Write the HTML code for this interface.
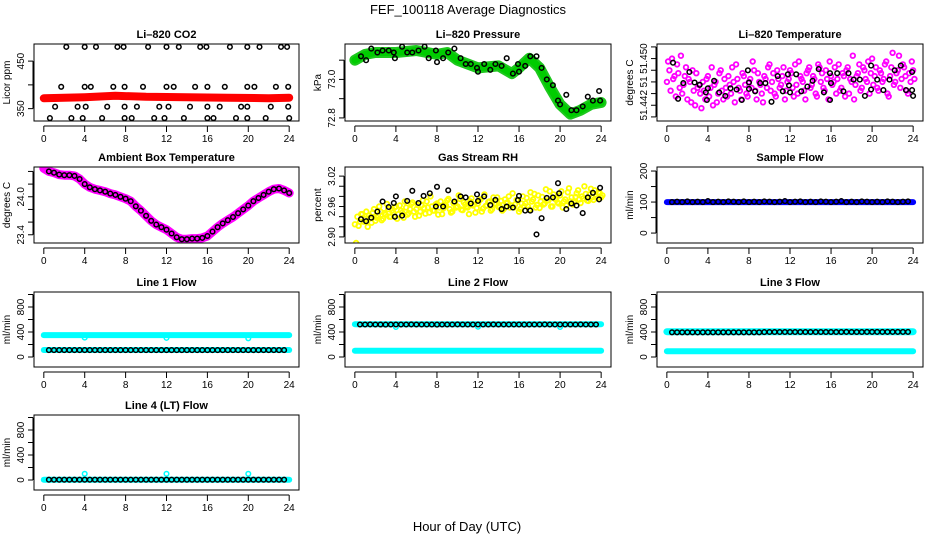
<!DOCTYPE html>
<html><head><meta charset="utf-8"><title>FEF_100118 Average Diagnostics</title>
<style>
html,body{margin:0;padding:0;background:#fff;}
svg{display:block;font-family:"Liberation Sans",sans-serif;}
</style></head>
<body>
<svg id="chart" width="936" height="540" viewBox="0 0 936 540" xmlns="http://www.w3.org/2000/svg">
<rect x="0" y="0" width="936" height="540" fill="#fff"/>
<text x="468" y="14" text-anchor="middle" font-size="13">FEF_100118  Average Diagnostics</text>
<text x="467" y="531" text-anchor="middle" font-size="13">Hour of Day (UTC)</text>
</svg>
<script>
// ---------- data ----------
const xTicks = [0,4,8,12,16,20,24];
// CO2
const co2TopT = [2.2,4.0,5.1,7.2,7.8,10.2,12.0,13.2,15.3,15.9,18.2,19.9,21.1,23.2,23.8];
const co2MidT = [1.7,4.0,4.6,6.8,7.9,9.7,12.0,12.7,14.8,16.0,17.7,19.9,20.6,22.7,23.9];
const co2LowT = [1.1,3.3,4.1,6.2,7.9,9.1,11.3,12.2,14.3,16.0,17.2,19.3,19.9,22.2,23.9];
const co2BotT = [0.6,2.7,3.8,5.7,7.9,8.6,10.8,11.8,13.7,16.0,16.6,18.8,19.9,21.7,24.0];
const co2Levels = [480,396,354,330];
const co2BandT = [0,4,7,10,14,18,22,24];
const co2BandV = [372,374,377,375,374,373,372,373];
// Pressure
const presBandT = [0,1,2,4,6,8,9,10,12,14,15.3,16,17,18,19,20,21,22,23,24];
const presBandV = [73.10,73.13,73.14,73.14,73.15,73.13,73.14,73.10,73.06,73.07,73.03,73.06,73.11,73.06,72.96,72.87,72.82,72.84,72.87,72.88];
const presT = [0.6,1.1,1.6,2.2,2.7,3.3,3.8,3.9,4.6,5.1,5.6,6.2,6.8,7.2,7.9,8.0,8.6,9.1,9.7,10.3,10.8,11.3,11.9,12.0,12.6,13.2,13.7,14.3,14.8,15.4,15.9,16.0,16.6,17.1,17.7,18.2,18.7,19.3,19.8,20.0,20.6,21.1,21.6,22.2,22.7,23.2,23.8,23.9];
const presV = [73.12,73.10,73.16,73.14,73.15,73.15,73.14,73.11,73.17,73.14,73.14,73.15,73.17,73.11,73.15,73.09,73.11,73.14,73.16,73.11,73.08,73.08,73.06,73.04,73.08,73.05,73.08,73.07,73.11,73.03,73.08,73.04,73.07,73.12,73.12,73.06,73.00,72.97,72.89,72.87,72.92,72.84,72.84,72.86,72.91,72.89,72.94,72.89];
// Li-820 temperature (thousandths of a degree above 51.440)
const tempA = [6,8,10,7,9,5,4,7,3,6,8,2,5,4,6,3,7,5,2,6,4,8,3,5,7,4,6,9,5,3,7,4,6,5,8,3,6,4,7,5,9,6,4,8,5,7,3,6,8,5,9,4,7,6,3,8,5,7,4,9,6,5,8,3,7,6,4,9,5,7,8,4,6,3,7,9,5,8,6,4,10,7,5,8,6,9,4,7,11,6,8,5,9,7,4,6,8];
const tempB = [9,4,6,3,7,10,5,8,6,2,4,7,5,1,4,6,3,8,5,2,7,4,6,3,5,8,2,6,4,7,5,3,6,9,4,7,5,2,6,8,4,7,3,6,5,8,4,6,7,3,5,9,6,4,7,8,5,6,3,8,7,4,6,9,5,8,6,4,7,3,8,6,10,5,7,4,8,6,9,7,5,8,4,7,6,9,3,8,5,7,10,6,8,4,7,9,6];
const tempBlkT = [0.6,1.1,1.6,2.2,2.7,3.2,3.8,3.9,4.0,4.6,5.1,5.7,6.2,6.8,7.3,7.9,8.0,8.0,8.6,9.1,9.6,10.2,10.8,11.3,11.8,11.9,12.0,12.6,13.1,13.7,14.2,14.8,15.3,15.9,15.9,16.0,16.6,17.2,17.7,18.2,18.8,19.3,19.9,19.9,20.5,21.1,21.7,22.2,22.8,23.3,23.9,23.9,24.0];
const tempBlkV = [9.3,3.1,5.8,7.7,5.9,5.5,4.2,2.9,4.9,6.2,4.2,3.6,4.9,4.7,2.9,8.0,5.9,4.8,4.4,5.8,5.8,2.6,7.0,4.4,7.3,5.4,4.2,7.3,4.4,5.2,6.2,8.2,4.2,7.5,2.9,5.8,7.5,4.4,7.5,6.4,6.4,3.6,8.8,4.7,6.4,4.6,6.4,8.0,8.8,4.6,7.7,4.6,3.6];
// Ambient box temperature
const ambV = [24.45,24.40,24.38,24.35,24.34,24.34,24.33,24.28,24.20,24.15,24.12,24.10,24.08,24.05,24.03,24.00,23.97,23.93,23.85,23.78,23.70,23.62,23.56,23.52,23.48,23.42,23.36,23.33,23.33,23.34,23.34,23.35,23.38,23.45,23.52,23.58,23.63,23.68,23.74,23.80,23.86,23.93,23.98,24.03,24.08,24.12,24.13,24.10,24.06];
// Gas stream RH (thousandths above 2.900)
const rhA = [25,40,30,45,35,20,38,48,32,42,50,36,44,55,40,48,60,45,52,38,58,47,65,50,55,42,62,57,70,48,60,52,66,58,45,63,72,55,50,68,60,75,53,64,58,70,62,48,66,74,56,61,69,52,78,64,59,71,55,67,80,62,58,73,50,66,61,77,54,70,85,63,57,79,66,72,90,60,75,68,82,58,74,88,70,64,79,92,67,76,85,71,95,73,80,88,78];
const rhB = [-12,22,45,30,50,42,28,55,38,60,33,47,65,40,52,58,36,62,48,70,44,55,68,40,63,50,72,46,58,80,52,64,44,70,56,62,75,48,66,58,82,54,68,60,45,76,64,57,72,50,84,62,70,55,66,78,60,52,74,68,58,86,64,72,55,80,66,60,88,74,58,82,70,64,94,72,60,84,76,66,90,70,62,96,78,68,86,74,80,100,72,84,78,92,76,86,82];
const rhBlkT = [0.6,1.1,1.6,2.2,2.7,3.3,3.8,3.9,4.0,4.6,5.1,5.6,6.2,6.7,7.3,7.9,8.0,8.6,9.1,9.7,10.3,10.8,11.3,11.9,12.0,12.6,13.2,13.7,14.3,14.8,15.4,15.9,16.0,16.6,17.1,17.7,18.2,18.7,19.3,19.8,19.9,20.6,21.1,21.6,22.2,22.7,23.2,23.8,23.9];
const rhBlkV = [2.935,2.931,2.938,2.950,2.970,2.959,2.967,2.940,2.980,2.942,2.971,2.991,2.967,2.981,2.986,2.960,2.999,2.960,2.992,2.970,2.980,2.978,2.966,2.984,2.971,2.980,2.963,2.973,2.955,2.960,2.958,2.973,2.981,2.952,2.952,2.905,2.937,2.977,2.978,3.006,2.986,2.955,2.966,2.962,2.947,2.978,2.987,2.974,2.997];
// Flows (black points every half hour 0.5..23.5)
const sampleBlk = [100,101,100,102,100,101,100,103,100,101,100,102,101,100,102,100,101,100,102,101,100,101,103,100,101,102,100,101,100,102,101,100,101,103,100,101,100,102,101,100,101,100,102,101,100,101,102];
const line1Blk = [110,110,110,111,110,110,110,110,110,110,111,110,110,110,110,110,110,111,110,110,110,110,110,110,110,111,110,110,110,110,110,110,111,110,110,110,110,110,110,110,111,110,110,110,110,110,110];
const line2Blk = [520,520,521,520,520,519,520,520,520,520,521,520,520,520,520,519,520,520,520,521,520,520,520,520,520,520,521,520,520,520,520,520,519,520,520,520,521,520,520,520,520,520,520,521,520,520,520];
const line3Blk = [395,395,396,395,395,394,395,395,395,396,395,395,395,395,395,396,395,395,398,400,400,400,400,400,400,400,400,400,400,400,400,400,400,400,401,400,400,400,402,402,402,402,402,402,402,402,402];
const line4Blk = [5,5,5,5,5,5,5,5,5,5,5,5,5,5,5,5,5,5,5,5,5,5,5,5,5,5,5,5,5,5,5,5,5,5,5,5,5,5,5,5,5,5,5,5,5,5,5];
const bandT = [0,24];
const line1Upper = [350,350];
const line1Lower = [112,112];
const line2Upper = [525,525];
const line2Lower = [100,100];
const line3Upper = [405,405];
const line3Lower = [92,92];
const line4Lower = [5,5];
const sampleBand = [100,100];
const spikeT = [4,12,20];
const line1Dip = [310,305,300];
const line2Dip = [480,485,480];
const line4Spike = [100,100,100];

// ---------- drawing ----------
const NS = "http://www.w3.org/2000/svg";
const svg = document.getElementById('chart');
function mk(tag, attrs, parent){
  const e = document.createElementNS(NS, tag);
  for (const k in attrs) e.setAttribute(k, attrs[k]);
  (parent||svg).appendChild(e);
  return e;
}
const cols = [[34,299],[345,611],[657,923]];
const rows = [[44,121],[167,243],[292,367],[415,490]];

function panel(name, c, r, ymin, ymax, yTicks, yLabels, title, ylab){
  const [x0,x1] = cols[c], [y0,y1] = rows[r];
  const g = mk('g', {});
  
  
  const xs = t => x0 + (t + 0.96) / 25.92 * (x1 - x0);
  const ys = v => y1 - (v - ymin) / (ymax - ymin) * (y1 - y0);
  const clipId = 'clip-' + name;
  const cp = mk('clipPath', {id: clipId}, g);
  mk('rect', {x: x0, y: y0, width: x1 - x0, height: y1 - y0}, cp);
  const plot = mk('g', {'clip-path': 'url(#' + clipId + ')'}, g);
  
  
  const box = mk('rect', {x: x0, y: y0, width: x1 - x0, height: y1 - y0, fill: 'none', stroke: '#000', 'stroke-width': 1});
  
  
  const tt = mk('text', {x: (x0 + x1) / 2, y: y0 - 6, 'text-anchor': 'middle', 'font-size': 11, 'font-weight': 'bold'}, g);
  tt.textContent = title;
  
  
  const ax = y1 + 5;
  const xl = mk('line', {x1: xs(0), x2: xs(24), y1: ax, y2: ax, stroke: '#000'}, g);
  
  
  xTicks.forEach(t => {
    mk('line', {x1: xs(t), x2: xs(t), y1: ax, y2: ax + 6, stroke: '#000'}, g);
    const lt = mk('text', {x: xs(t), y: ax + 16, 'text-anchor': 'middle', 'font-size': 10}, g);
    lt.textContent = String(t);
    
    
  });
  const ay = x0 - 1;
  const yl = mk('line', {x1: ay, x2: ay, y1: ys(yTicks[0]), y2: ys(yTicks[yTicks.length - 1]), stroke: '#000'}, g);
  
  
  yTicks.forEach((v, i) => {
    mk('line', {x1: ay - 5, x2: ay, y1: ys(v), y2: ys(v), stroke: '#000'}, g);
    if (yLabels[i]) {
      const py = ys(v);
      const lt = mk('text', {x: ay - 9, y: py, 'text-anchor': 'middle', 'font-size': 10, transform: 'rotate(-90 ' + (ay - 9) + ' ' + py + ')'}, g);
      lt.textContent = yLabels[i];
      
      
    }
  });
  const yt = mk('text', {x: x0 - 24, y: (y0 + y1) / 2, 'text-anchor': 'middle', 'font-size': 10, transform: 'rotate(-90 ' + (x0 - 24) + ' ' + ((y0 + y1) / 2) + ')'}, g);
  yt.textContent = ylab;
  
  
  return {xs, ys, plot};
}
function band(p, ts, vs, color, w, nm){
  const pts = ts.map((t, i) => p.xs(t).toFixed(1) + ',' + p.ys(vs[i]).toFixed(1)).join(' ');
  const e = mk('polyline', {points: pts, fill: 'none', stroke: color, 'stroke-width': w, 'stroke-linejoin': 'round', 'stroke-linecap': 'round'}, p.plot);
  
  
}
function pts(p, ts, vs, color, nm, r, sw){
  vs.forEach((v, i) => {
    const e = mk('circle', {cx: p.xs(ts[i]).toFixed(1), cy: p.ys(v).toFixed(1), r: r || 2.3, fill: 'none', stroke: color, 'stroke-width': sw || 1.5}, p.plot);
    
    
  });
}
const halfHours = line1Blk.map((_, i) => 0.5 + i * 0.5);
const quarterHours = tempA.map((_, i) => i * 0.25);
const halfAll = ambV.map((_, i) => i * 0.5);

let p = panel('co2', 0, 0, 324, 486, [350,400,450], ['350','','450'], 'Li\u2013820 CO2', 'Licor ppm');
band(p, co2BandT, co2BandV, '#ff0000', 8, 'co2-red-band');
[co2TopT, co2MidT, co2LowT, co2BotT].forEach((ts, k) => pts(p, ts, ts.map(() => co2Levels[k]), '#000', 'co2-point'));

p = panel('pressure', 1, 0, 72.784, 73.184, [72.8,72.9,73.0,73.1], ['72.8','','73.0',''], 'Li\u2013820 Pressure', 'kPa');
band(p, presBandT, presBandV, '#1ec81e', 11, 'pressure-green-band');
band(p, presBandT, presBandV, '#00cc00', 7, 'pressure-green-core');
pts(p, presT, presV, '#000', 'pressure-point');

p = panel('li820-temp', 2, 0, 51.4393, 51.4525, [51.440,51.442,51.444,51.446,51.448,51.450,51.452], ['','51.442','','51','','51.450',''], 'Li\u2013820 Temperature', 'degrees C');
pts(p, quarterHours, tempA.map(v => 51.440 + v / 1000), '#ff00ff', 'temp-magenta-point', 2.3, 1.8);
pts(p, quarterHours.map(t => t + 0.12), tempB.map(v => 51.4405 + v / 1000), '#ff00ff', 'temp-magenta-point', 2.3, 1.8);
pts(p, tempBlkT, tempBlkV.map(v => 51.440 + v / 1000), '#000', 'temp-point');

p = panel('ambient-temp', 0, 1, 23.27, 24.47, [23.4,23.6,23.8,24.0,24.2,24.4], ['23.4','','','24.0','',''], 'Ambient Box Temperature', 'degrees C');
band(p, halfAll, ambV, '#ff00ff', 9, 'ambient-magenta-band');
pts(p, halfAll.slice(1), ambV.slice(1), '#000', 'ambient-point');

p = panel('gas-rh', 1, 1, 2.888, 3.038, [2.90,2.92,2.94,2.96,2.98,3.00,3.02], ['2.90','','','2.96','','','3.02'], 'Gas Stream RH', 'percent');
pts(p, quarterHours, rhA.map(v => 2.9 + v / 1000), '#ffff00', 'rh-yellow-point', 2.3, 1.8);
pts(p, quarterHours.map(t => t + 0.12), rhB.map(v => 2.9 + v / 1000), '#ffff00', 'rh-yellow-point', 2.3, 1.8);
pts(p, rhBlkT, rhBlkV, '#000', 'rh-point');

p = panel('sample-flow', 2, 1, -32, 213, [0,50,100,150,200], ['0','','100','','200'], 'Sample Flow', 'ml/min');
band(p, bandT, sampleBand, '#0000ff', 6, 'sample-flow-blue-band');
pts(p, halfHours, sampleBlk, '#000', 'sample-flow-point');
const flowTicks = [0,200,400,600,800,1000], flowLabels = ['0','','400','','800',''];

p = panel('line1-flow', 0, 2, -160, 1040, flowTicks, flowLabels, 'Line 1 Flow', 'ml/min');
band(p, bandT, line1Upper, '#00ffff', 6, 'line1-cyan-upper');
band(p, bandT, line1Lower, '#00ffff', 6, 'line1-cyan-lower');
pts(p, spikeT, line1Dip, '#00ffff', 'line1-cyan-dip');
pts(p, halfHours, line1Blk, '#000', 'line1-point');

p = panel('line2-flow', 1, 2, -160, 1040, flowTicks, flowLabels, 'Line 2 Flow', 'ml/min');
band(p, bandT, line2Upper, '#00ffff', 6, 'line2-cyan-upper');
band(p, bandT, line2Lower, '#00ffff', 6, 'line2-cyan-lower');
pts(p, spikeT, line2Dip, '#00ffff', 'line2-cyan-dip');
pts(p, halfHours, line2Blk, '#000', 'line2-point');

p = panel('line3-flow', 2, 2, -160, 1040, flowTicks, flowLabels, 'Line 3 Flow', 'ml/min');
band(p, bandT, line3Upper, '#00ffff', 7, 'line3-cyan-upper');
band(p, bandT, line3Lower, '#00ffff', 6, 'line3-cyan-lower');
pts(p, halfHours, line3Blk, '#000', 'line3-point');

p = panel('line4-flow', 0, 3, -160, 1040, flowTicks, flowLabels, 'Line 4 (LT) Flow', 'ml/min');
band(p, bandT, line4Lower, '#00ffff', 6, 'line4-cyan-band');
pts(p, spikeT, line4Spike, '#00ffff', 'line4-cyan-spike');
pts(p, halfHours, line4Blk, '#000', 'line4-point');
</script>
</body></html>
